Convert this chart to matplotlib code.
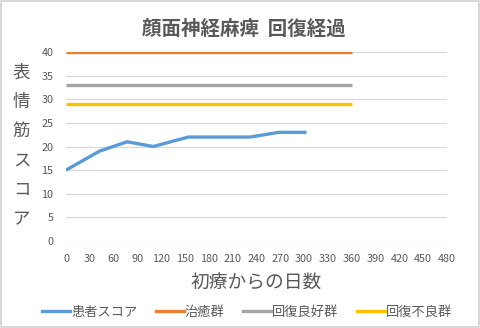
import matplotlib.pyplot as plt
from matplotlib.lines import Line2D

plt.rcParams['font.family'] = ['Noto Sans CJK JP', 'DejaVu Sans']

# 患者スコアの推移
days = [0, 42, 77, 110, 154, 193, 232, 268, 303]
score = [15, 19, 21, 20, 22, 22, 22, 23, 23]

# 基準線
ref_days = [0, 360]
ref_names = ['治癒群', '回復良好群', '回復不良群']
ref_values = [40, 33, 29]

colors = ['#5B9BD5', '#ED7D31', '#A5A5A5', '#FFC000']
text_color = '#595959'

fig = plt.figure(figsize=(4.8, 3.28), dpi=100, edgecolor='#D9D9D9', linewidth=1.5)
ax = fig.add_axes([0.1375, 0.2652, 0.7938, 0.5763])

ax.plot(days, score, color=colors[0], lw=2.4, label='患者スコア', solid_capstyle='butt')
for name, val, c in zip(ref_names, ref_values, colors[1:]):
    ax.plot(ref_days, [val, val], color=c, lw=2.4, label=name, solid_capstyle='butt')

ax.set_xlim(0, 480)
ax.set_ylim(0, 40)
ax.set_xticks(range(0, 481, 30))
ax.set_yticks(range(0, 41, 5))
ax.grid(axis='y', color='#D9D9D9', lw=0.9)
ax.set_axisbelow(True)
for s in ax.spines.values():
    s.set_visible(False)
ax.tick_params(length=0, colors=text_color, labelsize=7.8, pad=9)
ax.tick_params(axis='y', pad=9)

fig.text(0.508, 0.912, '顔面神経麻痺  回復経過', ha='center', va='center',
         fontsize=14, fontweight='bold', color=text_color)

ylabel_chars = '表情筋スコア'
for i, ch in enumerate(ylabel_chars):
    fig.text(0.045, 1 - (73 + i * 29.2) / 328, ch, ha='center', va='center',
             fontsize=12.5, color=text_color)

fig.text(0.533, 0.137, '初療からの日数', ha='center', va='center',
         fontsize=13.5, color=text_color)

handles = [Line2D([0], [0], color=c, lw=2.4) for c in colors]
labels = ['患者スコア'] + ref_names
fig.legend(handles, labels, loc='center', bbox_to_anchor=(0.515, 0.048), ncol=4,
           frameon=False, fontsize=9.5, labelcolor=text_color, handlelength=2.1,
           handletextpad=0.1, columnspacing=1.4)

fig.savefig('out.png', dpi=100, edgecolor=fig.get_edgecolor())
